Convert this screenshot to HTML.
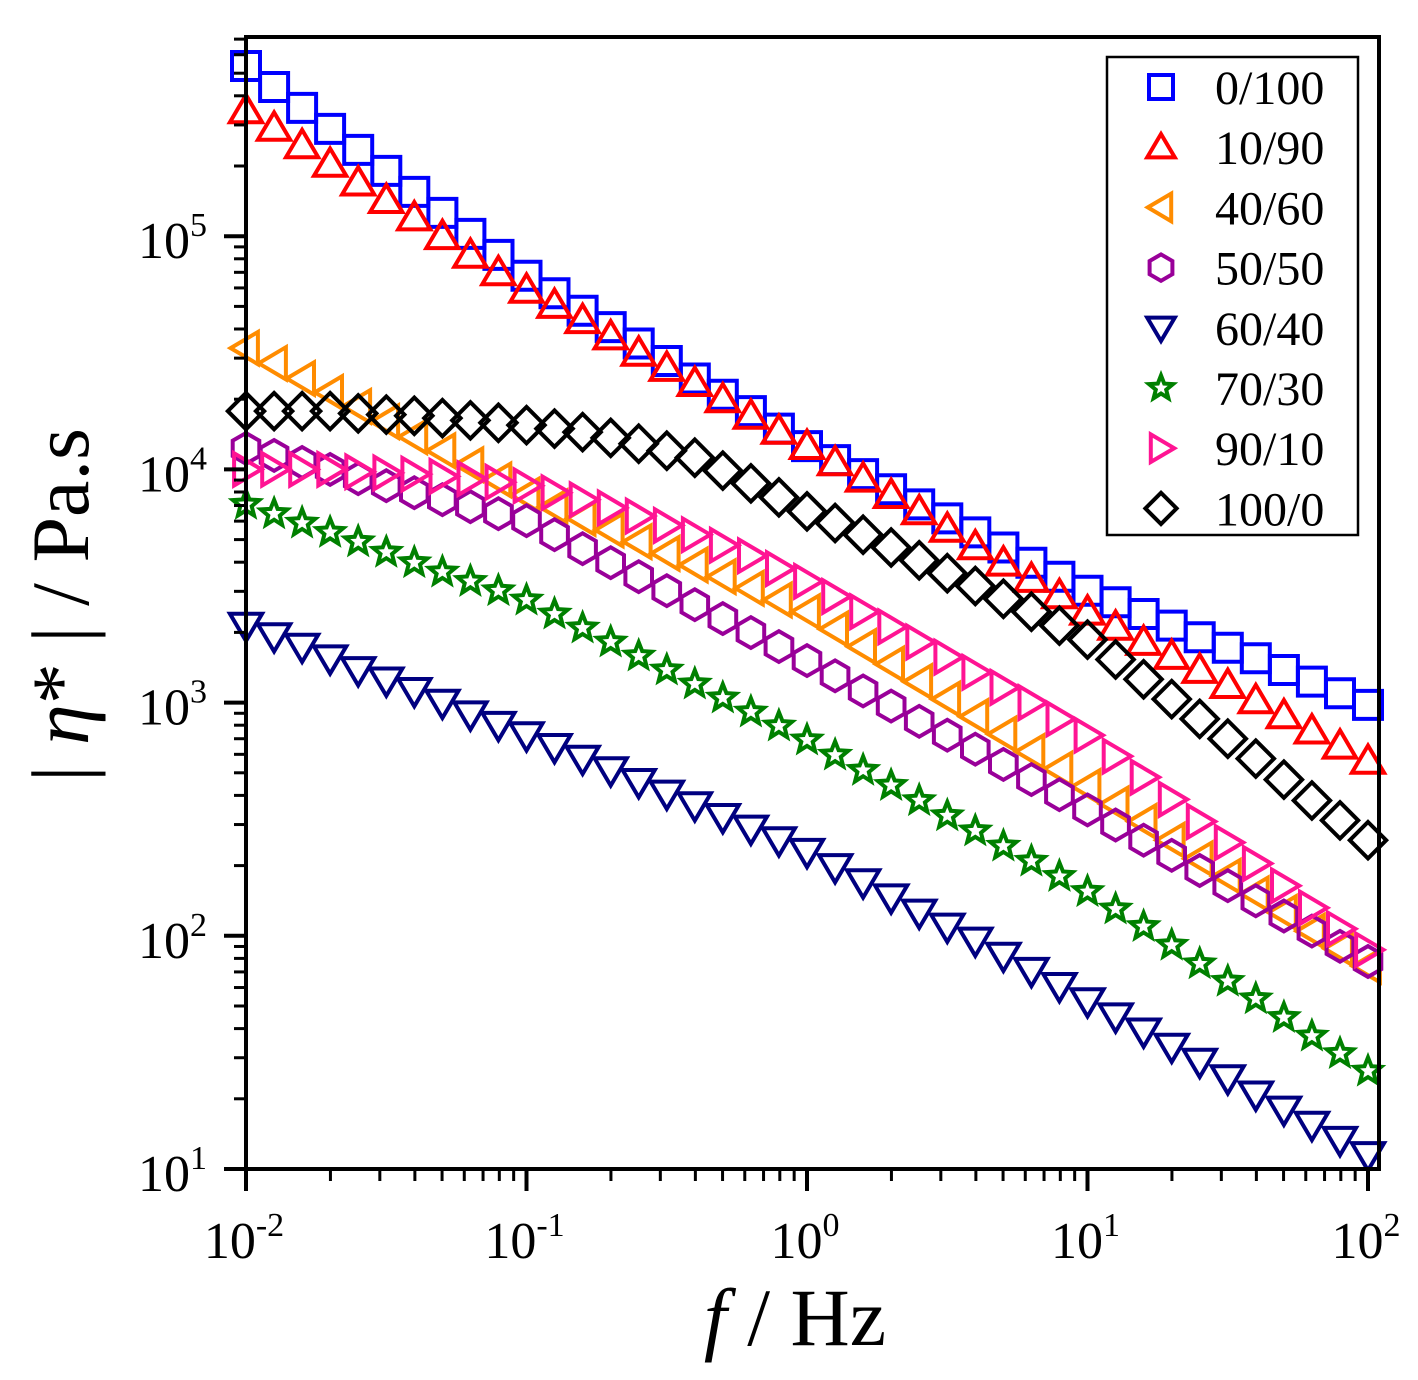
<!DOCTYPE html>
<html><head><meta charset="utf-8"><style>
html,body{margin:0;padding:0;background:#fff}
svg{display:block;font-family:"Liberation Serif",serif}
</style></head><body>
<svg id="chart" width="1418" height="1380" viewBox="0 0 1418 1380" xmlns="http://www.w3.org/2000/svg"></svg>
<script>
// frequencies as log10(f / Hz)
const logFreqs = [-2,-1.9,-1.8,-1.7,-1.6,-1.5,-1.4,-1.3,-1.2,-1.1,-1,-0.9,-0.8,-0.7,-0.6,-0.5,-0.4,-0.3,-0.2,-0.1,0,0.1,0.2,0.3,0.4,0.5,0.6,0.7,0.8,0.9,1,1.1,1.2,1.3,1.4,1.5,1.6,1.7,1.8,1.9,2];
// series values as log10(|eta*| / Pa.s)
const s0_100 = [5.73,5.64,5.55,5.46,5.37,5.28,5.19,5.10,5.01,4.92,4.83,4.755,4.68,4.61,4.54,4.465,4.39,4.32,4.25,4.175,4.10,4.04,3.98,3.915,3.85,3.79,3.73,3.665,3.60,3.54,3.48,3.43,3.38,3.33,3.28,3.235,3.19,3.14,3.09,3.04,2.99];
const s10_90 = [5.54,5.465,5.39,5.31,5.23,5.155,5.08,5.00,4.92,4.845,4.77,4.705,4.64,4.57,4.50,4.435,4.37,4.30,4.23,4.165,4.10,4.03,3.96,3.89,3.82,3.745,3.67,3.60,3.53,3.46,3.39,3.325,3.26,3.20,3.14,3.075,3.01,2.945,2.88,2.815,2.75];
const s40_60 = [4.52,4.455,4.39,4.33,4.27,4.205,4.14,4.08,4.02,3.955,3.89,3.84,3.79,3.74,3.69,3.64,3.59,3.54,3.49,3.44,3.39,3.315,3.24,3.165,3.09,3.015,2.94,2.865,2.79,2.715,2.64,2.565,2.49,2.41,2.33,2.255,2.18,2.10,2.02,1.945,1.87];
const s50_50 = [4.09,4.06,4.03,4.00,3.96,3.93,3.90,3.87,3.84,3.81,3.78,3.72,3.66,3.60,3.54,3.48,3.42,3.36,3.30,3.24,3.18,3.115,3.05,2.985,2.92,2.86,2.80,2.735,2.67,2.605,2.54,2.475,2.41,2.345,2.28,2.215,2.15,2.085,2.02,1.955,1.89];
const s60_40 = [3.33,3.285,3.24,3.19,3.14,3.095,3.05,3.00,2.95,2.905,2.86,2.81,2.76,2.71,2.66,2.61,2.56,2.51,2.46,2.41,2.36,2.295,2.23,2.165,2.10,2.04,1.98,1.915,1.85,1.785,1.72,1.655,1.59,1.525,1.46,1.39,1.32,1.255,1.19,1.125,1.06];
const s70_30 = [3.85,3.81,3.77,3.73,3.69,3.645,3.60,3.56,3.52,3.48,3.44,3.38,3.32,3.26,3.20,3.14,3.08,3.02,2.96,2.90,2.84,2.775,2.71,2.645,2.58,2.515,2.45,2.385,2.32,2.255,2.19,2.115,2.04,1.96,1.88,1.805,1.73,1.65,1.57,1.495,1.42];
const s90_10 = [4.00,4.00,4.00,4.00,3.99,3.985,3.98,3.97,3.96,3.945,3.93,3.90,3.87,3.835,3.80,3.76,3.72,3.675,3.63,3.575,3.52,3.455,3.39,3.325,3.26,3.195,3.13,3.065,3.00,2.93,2.86,2.77,2.68,2.585,2.49,2.40,2.31,2.215,2.12,2.03,1.94];
const s100_0 = [4.25,4.25,4.25,4.25,4.24,4.235,4.23,4.22,4.21,4.20,4.19,4.175,4.16,4.135,4.11,4.08,4.05,3.995,3.94,3.88,3.82,3.77,3.72,3.665,3.61,3.555,3.50,3.445,3.39,3.33,3.27,3.185,3.10,3.015,2.93,2.845,2.76,2.67,2.58,2.495,2.41];
const seriesLabels = ["0/100","10/90","40/60","50/50","60/40","70/30","90/10","100/0"];
const xTickExps = [-2,-1,0,1,2];
const yTickExps = [1,2,3,4,5];

const series = [
 {name:"0/100",data:s0_100,color:"#0000ff",shape:"square"},
 {name:"10/90",data:s10_90,color:"#ff0000",shape:"up"},
 {name:"40/60",data:s40_60,color:"#ff8c00",shape:"left"},
 {name:"50/50",data:s50_50,color:"#990099",shape:"hex"},
 {name:"60/40",data:s60_40,color:"#000080",shape:"down"},
 {name:"70/30",data:s70_30,color:"#008000",shape:"star"},
 {name:"90/10",data:s90_10,color:"#ff1493",shape:"right"},
 {name:"100/0",data:s100_0,color:"#000000",shape:"diamond"}
];
const svg = document.getElementById('chart');
const NS = "http://www.w3.org/2000/svg";
const X0=246, XR=1379, DX=280.5, Y0=1169, YT=37, DY=233.2;
function xl(lf){return X0+(lf+2)*DX;}
function yl(lv){return Y0-(lv-1)*DY;}
function mk(tag,attrs,parent){const e=document.createElementNS(NS,tag);for(const k in attrs)e.setAttribute(k,attrs[k]);(parent||svg).appendChild(e);return e;}

function shapePath(shape,cx,cy,r){
  let pts=[];
  if(shape==="square") pts=[[-r,-r],[r,-r],[r,r],[-r,r]];
  else if(shape==="up") pts=[[0,-r*1.1],[r*1.15,r*0.85],[-r*1.15,r*0.85]];
  else if(shape==="down") pts=[[0,r*1.1],[r*1.15,-r*0.85],[-r*1.15,-r*0.85]];
  else if(shape==="left") pts=[[-r*1.1,0],[r*0.85,-r*1.15],[r*0.85,r*1.15]];
  else if(shape==="right") pts=[[r*1.1,0],[-r*0.85,-r*1.15],[-r*0.85,r*1.15]];
  else if(shape==="diamond") pts=[[0,-r*1.3],[r*1.3,0],[0,r*1.3],[-r*1.3,0]];
  else if(shape==="hex"){for(let i=0;i<6;i++){const a=Math.PI/6+i*Math.PI/3;pts.push([r*1.1*Math.cos(a),r*1.1*Math.sin(a)]);}}
  else if(shape==="star"){for(let i=0;i<10;i++){const a=-Math.PI/2+i*Math.PI/5;const rr=i%2?r*0.5:r*1.15;pts.push([rr*Math.cos(a),rr*Math.sin(a)]);}}
  return "M"+pts.map(p=>(cx+p[0]).toFixed(1)+","+(cy+p[1]).toFixed(1)).join("L")+"Z";
}

const plotG = mk('g',{});


series.forEach(s=>{
  const g=mk('g',{},plotG);
  
  
  s.data.forEach((v,i)=>{
    const p=mk('path',{d:shapePath(s.shape,xl(logFreqs[i]),yl(v),s.shape==="star"?12:14),fill:"none",stroke:s.color,"stroke-width":4,"stroke-linejoin":"miter"},g);
    
    
  });
});

const frame=mk('rect',{x:X0,y:YT,width:XR-X0,height:Y0-YT,fill:"none",stroke:"#000","stroke-width":4});



xTickExps.forEach(e=>{
  const x=xl(e);
  mk('line',{x1:x,y1:Y0,x2:x,y2:Y0+22,stroke:"#000","stroke-width":4});
  if(e<2){for(let m=2;m<=9;m++){const xm=xl(e+Math.log10(m));mk('line',{x1:xm,y1:Y0,x2:xm,y2:Y0+12,stroke:"#000","stroke-width":3});}}
  const t=mk('text',{x:x-2,y:1258,"font-size":52,"text-anchor":"middle"});
  
  
  t.innerHTML='10<tspan dy="-22" font-size="34">'+e+'</tspan>';
});
yTickExps.forEach(e=>{
  const y=yl(e);
  mk('line',{x1:X0-22,y1:y,x2:X0,y2:y,stroke:"#000","stroke-width":4});
  for(let m=2;m<=9;m++){const yy=yl(e+Math.log10(m));if(yy<YT)break;mk('line',{x1:X0-12,y1:yy,x2:X0,y2:yy,stroke:"#000","stroke-width":3});}
  const t=mk('text',{x:138,y:y+22,"font-size":52});
  
  
  t.innerHTML='10<tspan dy="-22" font-size="34">'+e+'</tspan>';
});

const xt=mk('text',{x:795,y:1345,"font-size":82,"text-anchor":"middle"});


xt.innerHTML='<tspan font-style="italic">f</tspan> / Hz';
const yt=mk('text',{x:0,y:0,"font-size":82,"text-anchor":"middle",transform:"translate(88,605) rotate(-90)"});


yt.innerHTML='| <tspan font-style="italic">η</tspan>* |  / Pa.s';

const lg=mk('g',{});


mk('rect',{x:1107,y:57,width:251,height:478,fill:"#fff",stroke:"#000","stroke-width":2.5},lg);
series.forEach((s,i)=>{
  const y=87+i*60.2;
  const e=mk('g',{},lg);
  
  
  mk('path',{d:shapePath(s.shape,1161,y,s.shape==="star"?11:12),fill:"none",stroke:s.color,"stroke-width":4},e);
  const t=mk('text',{x:1215,y:y+17,"font-size":48},e);
  t.textContent=seriesLabels[i];
});
</script>
</body></html>
